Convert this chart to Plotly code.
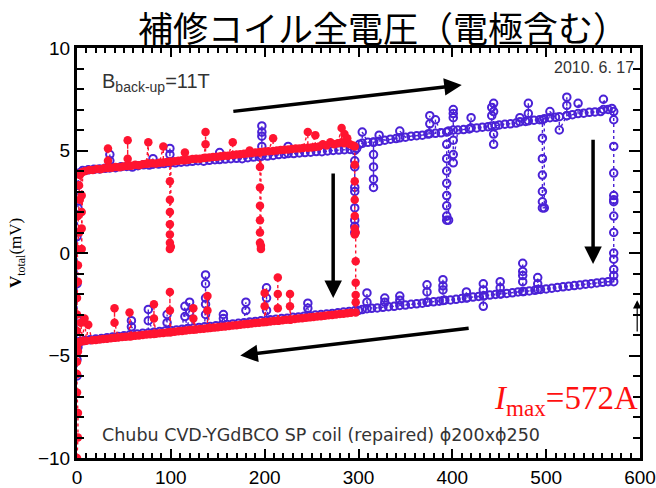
import plotly.graph_objects as go

# ---------------- data (current in A, total voltage in mV) ----------------
blue_up_I = [0, 0, 0, 0, 1, 1, 2, 6, 12, 18,
             24, 30, 35, 35, 35, 35, 41, 47, 53, 59,
             65, 71, 77, 81, 81, 87, 93, 99, 99, 99,
             99, 105, 111, 117, 123, 129, 135, 141, 147, 152,
             152, 158, 164, 170, 176, 182, 188, 194, 197, 197,
             197, 197, 197, 203, 209, 215, 221, 225, 225, 231,
             237, 243, 249, 255, 261, 267, 273, 279, 285, 291,
             296, 296, 296, 296, 296, 296, 296, 296, 296, 298,
             301, 304, 304, 310, 316, 316, 316, 316, 316, 316,
             322, 322, 328, 334, 340, 344, 344, 350, 356, 362,
             368, 374, 376, 376, 376, 382, 382, 388, 394, 394,
             394, 394, 394, 394, 394, 394, 394, 396, 396, 401,
             401, 401, 401, 401, 401, 401, 406, 412, 418, 420,
             420, 426, 432, 438, 442, 442, 442, 444, 444, 444,
             444, 446, 450, 456, 462, 468, 472, 472, 478, 481,
             481, 481, 487, 493, 496, 496, 496, 496, 496, 496,
             496, 498, 498, 504, 504, 510, 514, 514, 522, 522,
             522, 522, 528, 534, 534, 540, 546, 552, 558, 561,
             561, 566, 570, 572, 572, 572, 572, 572, 572, 572,
             572, 572, 572, 572, 572, 572, 572]
blue_up_V = [-4.5, -3.2, -1.5, 0.8, 2.2, 3.3, 3.9, 4.02, 4.06, 4.08,
             4.10, 4.13, 4.15, 4.5, 4.8, 4.2, 4.16, 4.21, 4.22, 4.19,
             4.26, 4.3, 4.29, 4.6, 4.33, 4.34, 4.36, 4.4, 4.8, 5.1,
             4.42, 4.4, 4.43, 4.45, 4.47, 4.5, 4.48, 4.52, 4.55, 4.9,
             4.56, 4.58, 4.6, 4.62, 4.6, 4.65, 4.68, 4.7, 5.2, 5.7,
             6.2, 5.9, 4.72, 4.73, 4.76, 4.8, 4.82, 5.2, 4.85, 4.85,
             4.88, 4.9, 4.92, 4.95, 4.94, 4.98, 5.0, 5.02, 5.04, 5.05,
             5.0, 4.2, 3.2, 2.2, 1.3, 1.0, 1.6, 3.0, 4.5, 5.1,
             5.3, 5.35, 5.9, 5.4, 5.42, 4.8, 4.2, 3.6, 3.2, 5.4,
             5.45, 5.75, 5.5, 5.55, 5.58, 5.62, 5.95, 5.65, 5.7, 5.72,
             5.75, 5.8, 6.3, 6.7, 5.82, 5.84, 6.5, 5.86, 5.9, 5.3,
             4.6, 4.0, 3.4, 2.8, 2.3, 1.8, 1.6, 1.6, 5.95, 6.0,
             6.6, 7.0, 6.8, 5.5, 4.8, 4.4, 6.0, 6.02, 6.05, 6.6,
             6.1, 6.1, 6.14, 6.16, 6.2, 6.7, 7.1, 7.3, 6.9, 5.8,
             5.3, 6.2, 6.25, 6.28, 6.3, 6.34, 6.4, 6.6, 6.42, 6.8,
             7.3, 6.45, 6.48, 6.5, 6.5, 5.6, 4.6, 3.8, 3.0, 2.5,
             2.2, 2.2, 6.55, 6.6, 6.9, 6.62, 6.65, 6.0, 6.7, 7.2,
             7.6, 6.7, 6.75, 6.8, 7.3, 6.82, 6.86, 6.88, 6.9, 7.0,
             7.5, 7.0, 7.05, 6.9, 6.5, 5.2, 3.9, 2.8, 2.6, 2.5,
             1.8, 1.0, 0.0, -0.3, -0.8, -1.1, -1.4]

blue_down_I = [566, 560, 554, 548, 542, 536, 530, 524, 518, 512,
               506, 500, 494, 491, 491, 491, 488, 482, 476, 475,
               475, 475, 475, 475, 470, 464, 458, 452, 451, 451,
               451, 446, 440, 434, 433, 433, 433, 433, 428, 422,
               416, 415, 415, 410, 404, 398, 392, 390, 390, 390,
               390, 386, 380, 374, 373, 373, 373, 368, 362, 356,
               350, 344, 344, 344, 338, 332, 328, 328, 326, 320,
               314, 309, 309, 309, 304, 300, 296, 290, 284, 278,
               272, 266, 260, 254, 248, 246, 246, 242, 236, 230,
               224, 218, 212, 206, 202, 202, 202, 202, 196, 190,
               184, 180, 180, 178, 172, 166, 160, 156, 156, 154,
               148, 142, 137, 137, 137, 137, 137, 136, 130, 124,
               120, 120, 118, 115, 115, 112, 106, 100, 96, 96,
               94, 88, 82, 76, 76, 76, 70, 64, 58, 58,
               56, 50, 44, 38, 32, 26, 20, 14, 8, 4,
               2, 1, 0, 0]
blue_down_V = [-1.4, -1.43, -1.46, -1.5, -1.52, -1.56, -1.59, -1.62, -1.65, -1.68,
               -1.72, -1.75, -1.78, -1.5, -1.2, -1.78, -1.82, -1.85, -1.88, -1.4,
               -0.9, -0.5, -1.1, -1.88, -1.9, -1.94, -1.97, -2.0, -1.7, -1.4,
               -2.0, -2.02, -2.05, -2.08, -1.8, -1.5, -2.6, -2.1, -2.12, -2.15,
               -2.18, -1.9, -2.2, -2.22, -2.26, -2.29, -2.3, -1.8, -1.3, -1.6,
               -2.32, -2.35, -2.38, -2.4, -1.9, -1.55, -2.4, -2.45, -2.48, -2.5,
               -2.54, -2.56, -2.3, -2.1, -2.6, -2.62, -2.4, -2.2, -2.65, -2.68,
               -2.7, -2.4, -1.95, -2.72, -2.76, -2.8, -2.82, -2.85, -2.88, -2.92,
               -2.95, -2.98, -3.0, -3.03, -3.06, -2.7, -2.45, -3.08, -3.12, -3.14,
               -3.18, -3.2, -3.23, -3.26, -2.8, -2.2, -1.7, -3.28, -3.31, -3.34,
               -3.37, -2.8, -2.4, -3.4, -3.43, -3.46, -3.49, -3.2, -3.0, -3.52,
               -3.55, -3.58, -3.0, -2.2, -1.5, -1.07, -2.5, -3.6, -3.63, -3.66,
               -2.9, -2.4, -3.68, -3.1, -2.6, -3.72, -3.75, -3.78, -3.4, -3.0,
               -3.8, -3.83, -3.86, -3.3, -2.75, -3.9, -3.92, -3.95, -3.6, -3.3,
               -4.0, -4.04, -4.07, -4.1, -4.13, -4.17, -4.2, -4.23, -4.27, -4.3,
               -4.35, -4.6, -5.2, -6.0]

red_up_I = [0, 0, 0, 0, 1, 1, 0, 2, 1, 3,
            2, 3, 4, 5, 5, 5, 5, 6, 9, 13,
            17, 21, 25, 29, 33, 33, 33, 37, 41, 45,
            49, 54, 54, 54, 58, 62, 66, 70, 74, 76,
            76, 80, 84, 88, 92, 92, 96, 99, 99, 99,
            99, 99, 99, 99, 99, 100, 100, 104, 108, 112,
            115, 115, 119, 123, 127, 131, 135, 137, 137, 137,
            141, 145, 149, 153, 157, 161, 166, 166, 170, 174,
            178, 182, 184, 186, 190, 194, 195, 195, 195, 195,
            195, 195, 196, 196, 196, 200, 204, 209, 209, 213,
            217, 221, 225, 229, 233, 237, 241, 246, 246, 250,
            254, 254, 258, 262, 266, 270, 274, 278, 282, 282,
            285, 285, 288, 291, 294, 296, 296, 296, 296, 296,
            296, 296, 297, 297, 297, 297, 297, 297]
red_up_V = [-4.6, -3.8, -3.0, -2.2, -1.4, -0.6, 0.2, 1.0, 1.8, 2.6,
            3.3, 3.8, 3.9, 2.8, 2.0, 1.2, 0.2, 3.95, 4.0, 4.05,
            4.05, 4.1, 4.08, 4.14, 4.5, 5.1, 4.15, 4.16, 4.2, 4.18,
            4.22, 4.6, 5.5, 4.25, 4.26, 4.3, 4.28, 4.33, 4.35, 5.4,
            4.36, 4.38, 4.37, 4.4, 5.2, 4.42, 4.44, 4.45, 3.5, 2.6,
            2.0, 1.4, 0.9, 0.5, 0.2, 0.3, 4.45, 4.48, 4.5, 4.52,
            4.9, 4.53, 4.55, 4.58, 4.6, 4.6, 4.63, 5.3, 5.9, 4.65,
            4.66, 4.68, 4.7, 4.72, 4.74, 4.75, 5.4, 4.78, 4.8, 4.82,
            4.84, 4.86, 5.0, 4.88, 4.9, 4.92, 4.2, 3.2, 2.3, 1.6,
            1.0, 0.5, 0.2, 0.35, 4.93, 4.95, 4.96, 5.6, 4.98, 5.0,
            5.02, 5.04, 5.05, 5.07, 5.1, 5.1, 5.12, 5.9, 5.14, 5.15,
            5.75, 5.17, 5.2, 5.3, 5.25, 5.4, 5.3, 5.35, 6.1, 5.4,
            5.8, 5.35, 5.6, 5.3, 5.25, 5.2, 4.3, 3.5, 2.6, 1.8,
            1.2, 0.9, 1.0, -0.4, -1.45, -2.05, -2.4, -2.9]

red_down_I = [292, 288, 284, 280, 276, 272, 268, 264, 260, 256,
              252, 248, 244, 240, 236, 232, 228, 227, 227, 227,
              223, 219, 215, 214, 214, 214, 214, 210, 206, 202,
              200, 200, 200, 198, 194, 190, 186, 182, 178, 174,
              170, 166, 162, 158, 154, 150, 146, 142, 139, 139,
              139, 135, 131, 127, 124, 124, 124, 120, 116, 112,
              108, 104, 100, 99, 99, 99, 96, 92, 88, 84,
              82, 82, 82, 78, 74, 70, 66, 62, 58, 56,
              56, 52, 48, 44, 40, 40, 40, 36, 32, 28,
              24, 20, 16, 12, 10, 8, 6, 4, 3, 2,
              1, 1, 0, 0, 0, 1, 1, 0]
red_down_V = [-2.92, -2.94, -2.96, -2.98, -3.0, -3.02, -3.04, -3.06, -3.08, -3.1,
              -3.12, -3.14, -3.16, -3.18, -3.2, -3.22, -3.24, -2.6, -2.0, -3.25,
              -3.26, -3.28, -3.3, -2.7, -2.0, -1.2, -3.3, -3.32, -3.34, -3.36,
              -2.6, -1.95, -3.37, -3.38, -3.4, -3.42, -3.44, -3.46, -3.48, -3.5,
              -3.52, -3.54, -3.56, -3.58, -3.6, -3.62, -3.64, -3.66, -2.8, -2.1,
              -3.67, -3.69, -3.71, -3.73, -3.2, -2.7, -3.74, -3.76, -3.78, -3.8,
              -3.82, -3.84, -3.86, -2.8, -1.9, -3.87, -3.88, -3.9, -3.92, -3.94,
              -3.2, -2.5, -3.95, -3.96, -3.98, -4.0, -4.02, -4.04, -4.06, -2.9,
              -4.07, -4.08, -4.1, -4.12, -3.4, -2.7, -4.14, -4.16, -4.18, -4.2,
              -4.22, -4.24, -4.26, -3.5, -4.28, -3.2, -4.3, -3.4, -4.33, -4.36,
              -4.4, -4.8, -5.3, -5.9, -6.8, -7.8, -9.0, -10.0]

x_ticks = [0, 100, 200, 300, 400, 500, 600]
y_ticks = [-10, -5, 0, 5, 10]

BLUE = "#4a22d6"
RED = "#ff1430"

fig = go.Figure()
fig.add_trace(go.Scatter(
    x=blue_up_I + blue_down_I, y=blue_up_V + blue_down_V,
    mode="lines+markers",
    line=dict(color=BLUE, width=1.4, dash="dot"),
    marker=dict(symbol="circle-open", size=7.5, color=BLUE, line=dict(width=2, color=BLUE)),
    showlegend=False, cliponaxis=True))
fig.add_trace(go.Scatter(
    x=red_up_I + red_down_I, y=red_up_V + red_down_V,
    mode="lines+markers",
    line=dict(color=RED, width=1.4, dash="dot"),
    marker=dict(symbol="circle", size=8.5, color=RED),
    showlegend=False, cliponaxis=True))

axis_common = dict(showline=True, linewidth=3, linecolor="black", mirror="allticks",
                   ticks="inside", tickcolor="black", showgrid=False, zeroline=False,
                   automargin=False,
                   tickfont=dict(family="Liberation Sans, Arial", size=19, color="black"))
fig.update_xaxes(range=[0, 600], tickvals=x_ticks, ticklen=9, tickwidth=2,
                 minor=dict(dtick=10, ticks="inside", ticklen=5, tickwidth=2, tickcolor="black"),
                 **axis_common)
fig.update_yaxes(range=[-10, 10], tickvals=y_ticks, ticklen=11, tickwidth=2,
                 minor=dict(dtick=1, ticks="inside", ticklen=7, tickwidth=2, tickcolor="black"),
                 **axis_common)

anns = []


def arrow(x0, y0, x1, y1, w=3.5, size=1.0):
    anns.append(dict(x=x1, y=y1, ax=x0, ay=y0, xref="x", yref="y", axref="x", ayref="y",
                     showarrow=True, arrowhead=2, arrowsize=size, arrowwidth=w,
                     arrowcolor="black", text=""))


arrow(165, 6.9, 410, 8.2)
arrow(273, 3.95, 273, -2.2)
arrow(550, 5.6, 550, -0.54)
arrow(419, -3.66, 174, -5.0)
arrow(597, -3.9, 597, -2.3, w=1.2, size=1.4)

anns.append(dict(x=24, y=8.3, xref="x", yref="y", xanchor="left", yanchor="middle",
                 text="B<sub>back-up</sub>=11T", showarrow=False,
                 font=dict(family="Liberation Sans, Arial", size=20, color="#333333")))
anns.append(dict(x=596, y=9.05, xref="x", yref="y", xanchor="right", yanchor="middle",
                 text="2010. 6. 17", showarrow=False,
                 font=dict(family="Liberation Sans, Arial", size=16, color="#333333")))
anns.append(dict(x=24, y=-8.9, xref="x", yref="y", xanchor="left", yanchor="middle",
                 text="Chubu CVD-YGdBCO SP coil (repaired) \u03d5200x\u03d5250", showarrow=False,
                 font=dict(family="DejaVu Sans", size=17.5, color="#333333")))
anns.append(dict(x=600, y=-7.2, xref="x", yref="y", xanchor="right", yanchor="middle",
                 text="<i>I</i><sub>max</sub>=572A", showarrow=False,
                 font=dict(family="Liberation Serif, Times New Roman", size=33, color="#ff1010")))
anns.append(dict(x=0, y=0.5, xref="paper", yref="paper", xshift=-60, xanchor="center",
                 yanchor="middle", textangle=-90,
                 text="<b>V</b><sub>total</sub>(mV)", showarrow=False,
                 font=dict(family="Liberation Serif, Times New Roman", size=17, color="black")))
anns.append(dict(x=0.543, y=1.0, xref="paper", yref="paper", yshift=22, xanchor="center",
                 yanchor="middle", showarrow=False, text="補修コイル全電圧（電極含む）",
                 font=dict(family="Noto Sans CJK JP", size=35, color="black")))

fig.update_layout(annotations=anns, width=656, height=488,
                  margin=dict(l=77, r=16, t=48, b=30),
                  paper_bgcolor="white", plot_bgcolor="white")
fig.write_html("out.html")
